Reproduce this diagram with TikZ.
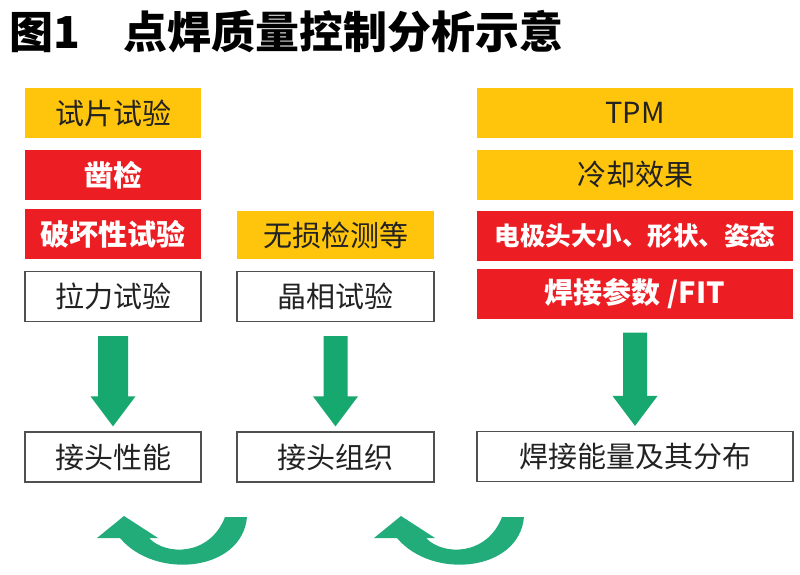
\documentclass[tikz,border=0pt]{standalone}
\usepackage{fontspec}
\setmainfont{Noto Sans CJK SC}
\usetikzlibrary{calc}
\definecolor{boxyellow}{RGB}{255,196,12}
\definecolor{boxred}{RGB}{236,30,36}
\definecolor{arrowgreen}{RGB}{22,168,110}
\definecolor{curvegreen}{RGB}{34,172,122}
\definecolor{txt}{RGB}{34,34,34}
\definecolor{edge}{RGB}{80,80,80}
\newcommand\greenarrow[3]{%
  \fill[arrowgreen] ($(#1.south)+(-#3,14)$) -- ($(#1.south)+(#3,14)$)
    -- ($(#2.north)+(#3,-35)$) -- ($(#2.north)+(22.5,-35)$)
    -- ($(#2.north)+(0,-5)$) -- ($(#2.north)+(-22.5,-35)$)
    -- ($(#2.north)+(-#3,-35)$) -- cycle;}
\newcommand\curvearrow[1]{%
  \fill[curvegreen, shift={(#1,0)}] (97,538) -- (124,516) -- (158,538) -- (149,538)
    .. controls (166,556) and (210,556) .. (225,517) -- (247,517)
    .. controls (242,572) and (155,580) .. (120,538) -- cycle;}
\tikzset{
  base/.style={inner sep=0, text=txt, font=\fontsize{29}{31}\selectfont},
  ybox/.style={base, fill=boxyellow},
  rbox/.style={base, fill=boxred, text=white, font=\fontsize{29}{31}\selectfont\bfseries},
  wbox/.style={base, fill=white, draw=edge, line width=1.2pt},
  lcol/.style={minimum width=176, minimum height=50},
  mcol/.style={minimum width=197, minimum height=50},
  rcol/.style={minimum width=316, minimum height=50},
  titlefont/.style={inner sep=0, anchor=base west, font=\fontsize{44}{46}\selectfont\bfseries, text=black}
}
\begin{document}
\begin{tikzpicture}[x=1pt, y=-1pt]
\fill[white] (0,0) rectangle (800,574);
\useasboundingbox (0,0) rectangle (800,574);
% title
\node[titlefont] (t1) at (9,48) {图1};
\node[titlefont] (t2) at (123,48) {点焊质量控制分析示意};
% left column
\node[ybox, lcol] (s1) at (113,113) {试片试验};
\node[rbox, lcol] (s2) at (113,175) {凿检};
\node[rbox, lcol] (s3) at (113,234) {破坏性试验};
\node[wbox, lcol] (s4) at (113,296.5) {拉力试验};
\node[wbox, lcol] (s5) at (113,457) {接头性能};
% middle column
\node[ybox, mcol, minimum height=48] (m1) at (335.5,235) {无损检测等};
\node[wbox, mcol] (m2) at (335.5,296.5) {晶相试验};
\node[wbox, mcol] (m3) at (335.5,457) {接头组织};
% right column
\node[ybox, rcol] (r1) at (635,113) {TPM};
\node[ybox, rcol] (r2) at (635,174.5) {冷却效果};
\node[rbox, rcol, font=\fontsize{25.5}{28}\selectfont\bfseries] (r3) at (635,235.5) {电极头大小、形状、姿态};
\node[rbox, rcol] (r4) at (635,293.5) {焊接参数 /FIT};
\node[wbox, rcol] (r5) at (635,456.5) {焊接能量及其分布};
% arrows
\greenarrow{s4}{s5}{15}
\greenarrow{m2}{m3}{12}
\greenarrow{r4}{r5}{12}
\curvearrow{0}
\curvearrow{277}
\end{tikzpicture}
\end{document}
